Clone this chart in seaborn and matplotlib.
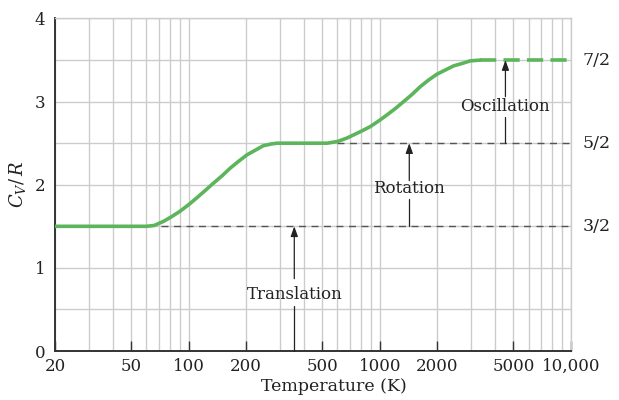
import matplotlib
matplotlib.use("Agg")
import matplotlib.pyplot as plt
import matplotlib.ticker as mticker
import matplotlib.transforms as mtransforms
import seaborn as sns
import pandas as pd

# ---- data ----
temp_solid = [20, 40, 60, 66, 74, 82, 90, 100, 110, 122, 135, 150, 165, 182, 202,
              225, 246, 270, 290, 350, 450, 530, 600, 670, 730, 810, 892, 990,
              1090, 1210, 1332, 1480, 1628, 1800, 1990, 2200, 2432, 2700, 2973, 3360]
cv_solid = [1.5, 1.5, 1.5, 1.51, 1.56, 1.62, 1.68, 1.76, 1.84, 1.93, 2.02, 2.11, 2.20,
            2.28, 2.36, 2.42, 2.47, 2.49, 2.50, 2.50, 2.50, 2.50, 2.52, 2.56, 2.60,
            2.65, 2.70, 2.77, 2.84, 2.92, 3.00, 3.09, 3.18, 3.26, 3.33, 3.38, 3.43,
            3.46, 3.49, 3.50]
temp_dashed = [3360, 10000]
cv_dashed = [3.5, 3.5]

levels = [1.5, 2.5, 3.5]
level_labels = ["3/2", "5/2", "7/2"]
level_starts = [72, 600, None]

mode_labels = ["Translation", "Rotation", "Oscillation"]
mode_x = [357, 1426, 4540]
mode_bottom = [0.0, 1.5, 2.5]
mode_top = [1.5, 2.5, 3.5]
mode_text_y = [0.675, 1.95, 2.94]
mode_gap_low = [0.54, 1.83, 2.82]
mode_gap_high = [0.87, 2.05, 3.06]

xtick_vals = [20, 50, 100, 200, 500, 1000, 2000, 5000, 10000]
xtick_labels = ["20", "50", "100", "200", "500", "1000", "2000", "5000", "10,000"]
ytick_vals = [0, 1, 2, 3, 4]

# ---- style ----
sns.set_theme(style="white")
plt.rcParams["font.family"] = ["DejaVu Serif"]
plt.rcParams["mathtext.fontset"] = "dejavuserif"

green = "#5db55b"
gridc = "#cccccc"
textc = "#222222"

fig = plt.figure(figsize=(6.19, 4.0), dpi=100)
ax = fig.add_axes([55 / 619, 49 / 400, 516 / 619, 332.5 / 400])

ax.set_xscale("log")
ax.set_xlim(20, 10000)
ax.set_ylim(0, 4)

# grid
ax.xaxis.set_major_locator(mticker.FixedLocator(xtick_vals))
ax.xaxis.set_major_formatter(mticker.FixedFormatter(xtick_labels))
ax.xaxis.set_minor_locator(mticker.LogLocator(base=10, subs=range(1, 10), numticks=20))
ax.xaxis.set_minor_formatter(mticker.NullFormatter())
ax.yaxis.set_major_locator(mticker.FixedLocator(ytick_vals))
ax.yaxis.set_minor_locator(mticker.MultipleLocator(0.5))
ax.grid(True, which="both", color=gridc, linewidth=1.0, zorder=0)
ax.set_axisbelow(True)

# dashed reference lines
for lvl, start in zip(levels, level_starts):
    if start is not None:
        ax.plot([start, 10000], [lvl, lvl], color="#555555", lw=1.0,
                dashes=(5, 4), zorder=2)

# curve
df_s = pd.DataFrame({"T": temp_solid, "Cv": cv_solid})
df_d = pd.DataFrame({"T": temp_dashed, "Cv": cv_dashed})
sns.lineplot(data=df_s, x="T", y="Cv", ax=ax, color=green, lw=2.6, zorder=3)
sns.lineplot(data=df_d, x="T", y="Cv", ax=ax, color=green, lw=2.6, zorder=3,
             dashes=False)
ax.lines[-1].set_dashes((4.5, 2))
ax.lines[-1].set_dash_capstyle("butt")

# arrows and labels
for lab, x, b, t, ty, gl, gh in zip(mode_labels, mode_x, mode_bottom, mode_top,
                                    mode_text_y, mode_gap_low, mode_gap_high):
    ax.plot([x, x], [b, gl], color=textc, lw=0.9, zorder=4, clip_on=False)
    ax.annotate("", xy=(x, t), xytext=(x, gh),
                arrowprops=dict(arrowstyle="-|>,head_length=0.5,head_width=0.18",
                                color=textc, lw=0.9, shrinkA=0, shrinkB=0), zorder=4)
    ax.text(x, ty, lab, ha="center", va="center", fontsize=12, color=textc, zorder=5)

# right labels
trans = mtransforms.blended_transform_factory(ax.transAxes, ax.transData)
for lvl, lab in zip(levels, level_labels):
    ax.text(1.022, lvl, lab, transform=trans, ha="left", va="center",
            fontsize=12.5, color=textc)

# ticks
ax.tick_params(axis="x", which="major", bottom=True, direction="in", length=7, width=1,
               color="#333333", labelsize=12, labelcolor=textc, pad=5)
ax.tick_params(axis="x", which="minor", bottom=False, length=0)
ax.tick_params(axis="y", which="both", left=False, length=0, labelsize=12,
               labelcolor=textc, pad=7)

for s in ["left", "bottom"]:
    ax.spines[s].set_color("#333333")
    ax.spines[s].set_linewidth(1.4)
for s in ["top", "right"]:
    ax.spines[s].set_color(gridc)
    ax.spines[s].set_linewidth(1.0)

ax.set_xlabel("Temperature (K)", fontsize=12.5, color=textc)
ax.xaxis.set_label_coords(0.54, -0.08)
ax.set_ylabel(r"$C_V/\,R$", fontsize=13, color=textc)
ax.yaxis.set_label_coords(-0.052, 0.5)

fig.savefig("out.png", dpi=100)
